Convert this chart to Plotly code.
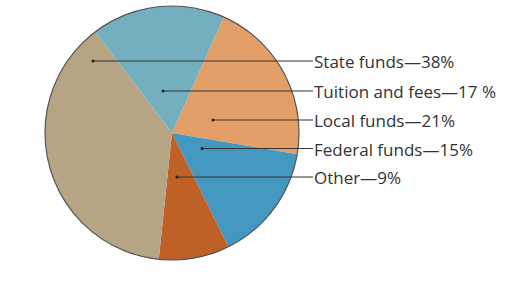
import plotly.graph_objects as go

# Data
categories = ["Local funds", "Federal funds", "Other", "State funds", "Tuition and fees"]
shares = [21, 15, 9, 38, 17]
label_texts = ["State funds\u201438%", "Tuition and fees\u201417 %", "Local funds\u201421%",
               "Federal funds\u201415%", "Other\u20149%"]

colors = ["#e49e67", "#4498c0", "#bf6127", "#b5a584", "#73afbe"]

W, H = 531, 289
def px(x):
    return x / W
def py(y):
    return 1 - y / H

fig = go.Figure()
dom = dict(x=[px(45), px(299)], y=[py(260), py(6)])
fig.add_trace(go.Pie(
    labels=categories, values=shares, sort=False, direction="clockwise",
    rotation=24, marker=dict(colors=colors, line=dict(width=0)),
    textinfo="none", hoverinfo="label+percent", showlegend=False, domain=dom,
))
# outline circle
fig.add_trace(go.Pie(
    values=[1], labels=["outline"], sort=False, textinfo="none", hoverinfo="skip",
    marker=dict(colors=["rgba(0,0,0,0)"], line=dict(color="#555555", width=1.2)),
    showlegend=False, domain=dom,
))

# label leader lines: (dot x, dot y, text y) in pixels
leaders = [(93, 61, 61), (163, 91, 91), (213, 120, 120), (202, 148.5, 148.5), (177, 177, 177)]
shapes = []
annotations = []
for (dx, dy, ty), txt in zip(leaders, label_texts):
    shapes.append(dict(type="line", xref="paper", yref="paper",
                       x0=px(dx), y0=py(dy), x1=px(313), y1=py(ty),
                       line=dict(color="#333333", width=1)))
    shapes.append(dict(type="circle", xref="paper", yref="paper",
                       x0=px(dx - 1.5), x1=px(dx + 1.5), y0=py(dy - 1.5), y1=py(dy + 1.5),
                       fillcolor="#222222", line=dict(width=0)))
    annotations.append(dict(text=txt, xref="paper", yref="paper", x=px(312), y=py(ty + 0.5),
                            xanchor="left", yanchor="middle", showarrow=False,
                            font=dict(family="Open Sans", size=17, color="#333333")))

fig.update_layout(
    width=W, height=H, margin=dict(l=0, r=0, t=0, b=0),
    paper_bgcolor="white", plot_bgcolor="white",
    shapes=shapes, annotations=annotations,
)
fig.write_html("out.html", config={"displayModeBar": False},
               post_script="document.body.style.margin='0';")
